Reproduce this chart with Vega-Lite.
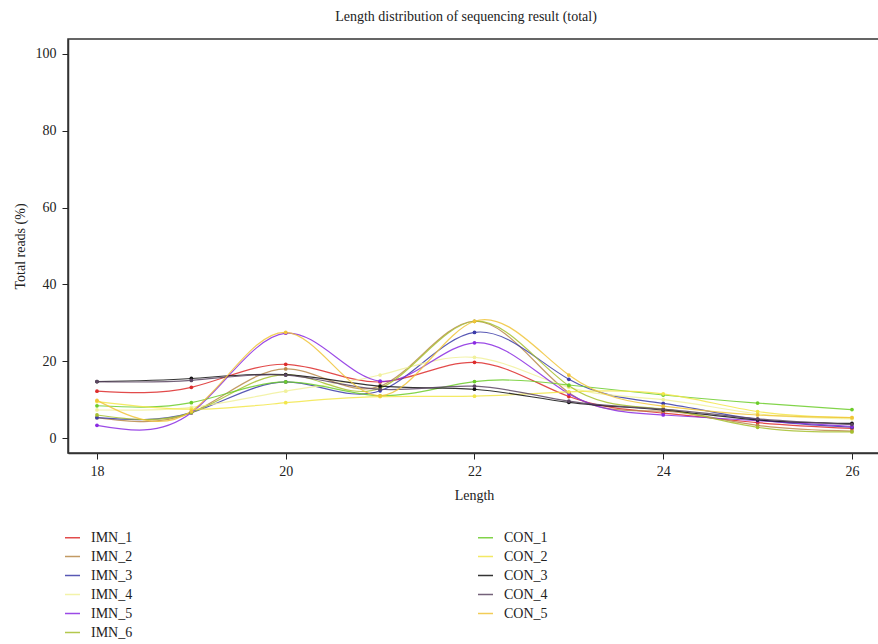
{
  "$schema": "https://vega.github.io/schema/vega-lite/v6.json",
  "autosize": {"type": "none"},
  "width": 812,
  "height": 414,
  "padding": {"left": 68, "top": 39, "right": 0, "bottom": 191},
  "background": "white",
  "config": {
    "font": "Liberation Serif",
    "view": {"stroke": "#333333", "strokeWidth": 1.5},
    "axis": {"grid": false, "domainColor": "#333333", "domainWidth": 1.5, "tickColor": "#222222", "tickSize": 6, "labelFontSize": 14, "labelColor": "#222222", "titleFontSize": 14, "titleFontWeight": "normal", "titleColor": "#222222", "labelFont": "Liberation Serif", "titleFont": "Liberation Serif"}
  },
  "title": {"text": "Length distribution of sequencing result (total)", "fontSize": 14, "fontWeight": "normal", "font": "Liberation Serif", "color": "#222222", "offset": 15, "anchor": "middle", "dx": -8},
  "data": {"values": [
    {"series":"IMN_1","length":18,"reads":12.2},{"series":"IMN_1","length":19,"reads":13.2},{"series":"IMN_1","length":20,"reads":19.2},{"series":"IMN_1","length":21,"reads":14.6},{"series":"IMN_1","length":22,"reads":19.7},{"series":"IMN_1","length":23,"reads":10.8},{"series":"IMN_1","length":24,"reads":6.5},{"series":"IMN_1","length":25,"reads":4.0},{"series":"IMN_1","length":26,"reads":2.5},
    {"series":"IMN_2","length":18,"reads":5.3},{"series":"IMN_2","length":19,"reads":6.6},{"series":"IMN_2","length":20,"reads":18.0},{"series":"IMN_2","length":21,"reads":13.5},{"series":"IMN_2","length":22,"reads":30.4},{"series":"IMN_2","length":23,"reads":11.8},{"series":"IMN_2","length":24,"reads":7.0},{"series":"IMN_2","length":25,"reads":3.3},{"series":"IMN_2","length":26,"reads":1.8},
    {"series":"IMN_3","length":18,"reads":5.3},{"series":"IMN_3","length":19,"reads":6.6},{"series":"IMN_3","length":20,"reads":14.6},{"series":"IMN_3","length":21,"reads":12.3},{"series":"IMN_3","length":22,"reads":27.5},{"series":"IMN_3","length":23,"reads":15.3},{"series":"IMN_3","length":24,"reads":9.0},{"series":"IMN_3","length":25,"reads":4.8},{"series":"IMN_3","length":26,"reads":2.8},
    {"series":"IMN_4","length":18,"reads":7.3},{"series":"IMN_4","length":19,"reads":8.0},{"series":"IMN_4","length":20,"reads":12.2},{"series":"IMN_4","length":21,"reads":16.4},{"series":"IMN_4","length":22,"reads":21.0},{"series":"IMN_4","length":23,"reads":13.2},{"series":"IMN_4","length":24,"reads":10.0},{"series":"IMN_4","length":25,"reads":6.3},{"series":"IMN_4","length":26,"reads":5.0},
    {"series":"IMN_5","length":18,"reads":3.3},{"series":"IMN_5","length":19,"reads":6.6},{"series":"IMN_5","length":20,"reads":27.3},{"series":"IMN_5","length":21,"reads":14.8},{"series":"IMN_5","length":22,"reads":24.8},{"series":"IMN_5","length":23,"reads":11.5},{"series":"IMN_5","length":24,"reads":6.0},{"series":"IMN_5","length":25,"reads":4.5},{"series":"IMN_5","length":26,"reads":3.0},
    {"series":"IMN_6","length":18,"reads":6.0},{"series":"IMN_6","length":19,"reads":6.6},{"series":"IMN_6","length":20,"reads":16.5},{"series":"IMN_6","length":21,"reads":13.0},{"series":"IMN_6","length":22,"reads":30.4},{"series":"IMN_6","length":23,"reads":13.6},{"series":"IMN_6","length":24,"reads":7.5},{"series":"IMN_6","length":25,"reads":2.8},{"series":"IMN_6","length":26,"reads":1.6},
    {"series":"CON_1","length":18,"reads":8.4},{"series":"CON_1","length":19,"reads":9.2},{"series":"CON_1","length":20,"reads":14.6},{"series":"CON_1","length":21,"reads":11.0},{"series":"CON_1","length":22,"reads":14.7},{"series":"CON_1","length":23,"reads":13.8},{"series":"CON_1","length":24,"reads":11.2},{"series":"CON_1","length":25,"reads":9.1},{"series":"CON_1","length":26,"reads":7.4},
    {"series":"CON_2","length":18,"reads":9.5},{"series":"CON_2","length":19,"reads":7.5},{"series":"CON_2","length":20,"reads":9.2},{"series":"CON_2","length":21,"reads":10.8},{"series":"CON_2","length":22,"reads":10.9},{"series":"CON_2","length":23,"reads":12.0},{"series":"CON_2","length":24,"reads":11.5},{"series":"CON_2","length":25,"reads":6.9},{"series":"CON_2","length":26,"reads":5.3},
    {"series":"CON_3","length":18,"reads":14.7},{"series":"CON_3","length":19,"reads":15.5},{"series":"CON_3","length":20,"reads":16.5},{"series":"CON_3","length":21,"reads":13.5},{"series":"CON_3","length":22,"reads":12.7},{"series":"CON_3","length":23,"reads":9.3},{"series":"CON_3","length":24,"reads":7.3},{"series":"CON_3","length":25,"reads":4.7},{"series":"CON_3","length":26,"reads":3.8},
    {"series":"CON_4","length":18,"reads":14.7},{"series":"CON_4","length":19,"reads":15.0},{"series":"CON_4","length":20,"reads":16.4},{"series":"CON_4","length":21,"reads":12.7},{"series":"CON_4","length":22,"reads":13.5},{"series":"CON_4","length":23,"reads":9.6},{"series":"CON_4","length":24,"reads":7.5},{"series":"CON_4","length":25,"reads":5.0},{"series":"CON_4","length":26,"reads":3.5},
    {"series":"CON_5","length":18,"reads":9.8},{"series":"CON_5","length":19,"reads":7.0},{"series":"CON_5","length":20,"reads":27.5},{"series":"CON_5","length":21,"reads":11.0},{"series":"CON_5","length":22,"reads":30.4},{"series":"CON_5","length":23,"reads":16.4},{"series":"CON_5","length":24,"reads":8.3},{"series":"CON_5","length":25,"reads":6.0},{"series":"CON_5","length":26,"reads":5.3}
  ]},
  "mark": {"type": "line", "interpolate": "natural", "strokeWidth": 1.2, "opacity": 0.85, "point": {"filled": true, "size": 14, "opacity": 1}},
  "encoding": {
    "x": {"field": "length", "type": "quantitative", "title": "Length",
      "scale": {"domain": [17.693, 26.297], "nice": false, "zero": false},
      "axis": {"values": [18, 20, 22, 24, 26], "labelPadding": 5, "titlePadding": 10}},
    "y": {"field": "reads", "type": "quantitative", "title": "Total reads (%)",
      "scale": {"domain": [-3.9, 103.9], "nice": false, "zero": false},
      "axis": {"values": [0, 20, 40, 60, 80, 100], "labelPadding": 6, "titlePadding": 8}},
    "color": {"field": "series", "type": "nominal",
      "scale": {
        "domain": ["IMN_1","IMN_2","IMN_3","IMN_4","IMN_5","IMN_6","CON_1","CON_2","CON_3","CON_4","CON_5"],
        "range": ["#dd2c2c","#b8894a","#3c3ca8","#f1f19c","#8a2be2","#a6bf2e","#6ccc2a","#f2e64a","#111111","#5c4763","#f0c43a"]
      },
      "legend": {"title": null, "orient": "none", "legendX": -4, "legendY": 490, "columns": 2, "columnPadding": 342, "rowPadding": 3, "symbolType": "stroke", "symbolSize": 225, "symbolStrokeWidth": 1.5, "labelFontSize": 14, "labelFont": "Liberation Serif", "labelColor": "#222222", "labelOffset": 10}
    }
  }
}
